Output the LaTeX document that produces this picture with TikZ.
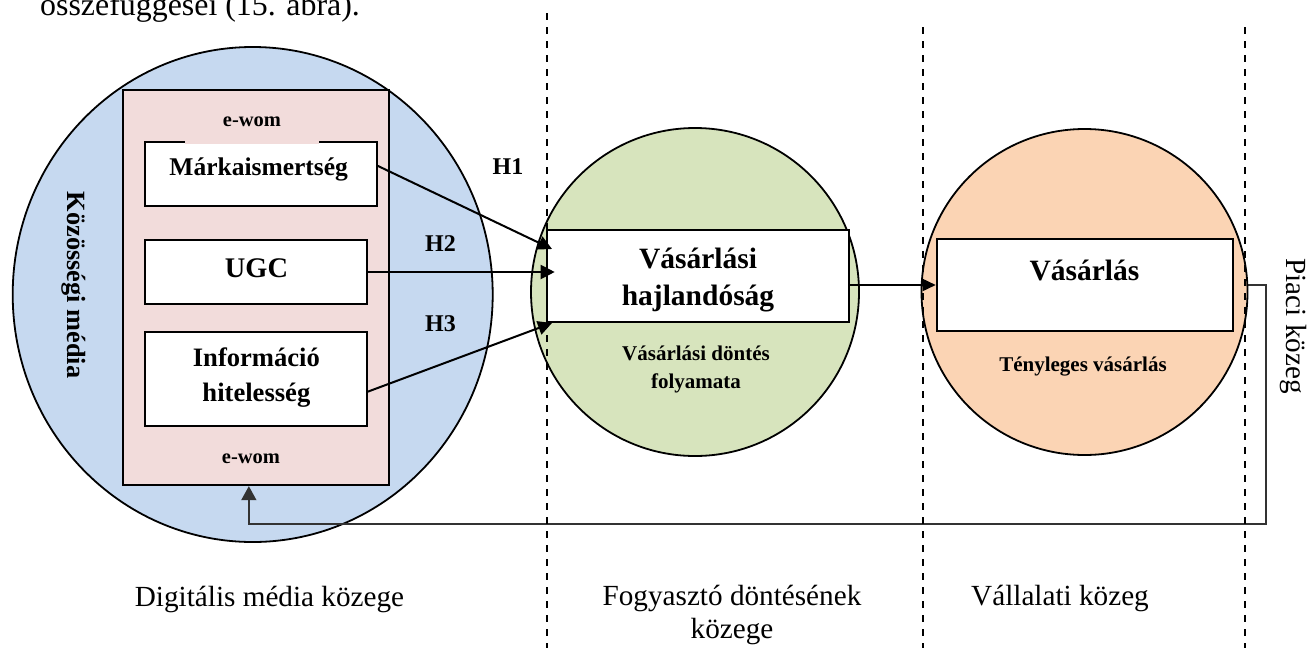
\documentclass[tikz,border=0pt]{standalone}
\usepackage{fontspec}
\setmainfont{Liberation Serif}
\usetikzlibrary{arrows.meta,shapes.geometric,calc}

\definecolor{mediablue}{HTML}{C6D9F0}
\definecolor{ewompink}{HTML}{F2DCDB}
\definecolor{decgreen}{HTML}{D7E4BD}
\definecolor{buyorange}{HTML}{FBD4B4}

\newcommand\fsz[2]{\fontsize{#1}{#2}\selectfont}

\tikzset{
  whitebox/.style={draw, line width=2pt, fill=white, inner sep=0pt},
  sphere/.style={draw, line width=1.8pt, inner sep=0pt},
  lbl/.style={inner sep=0pt, anchor=base},
  boxtext/.style={lbl, font=\bfseries\fsz{26}{35}},
  bigtext/.style={lbl, font=\bfseries\fsz{29.5}{37}},
  smalltext/.style={lbl, font=\bfseries\fsz{21}{27}},
  hyp/.style={lbl, font=\bfseries\fsz{24}{28}},
  ewomtext/.style={lbl, font=\bfseries\fsz{20.5}{24}},
  zone/.style={lbl, font=\fsz{29.2}{33}, align=center},
  arr/.style={line width=2pt, -{Triangle[length=14pt,width=14pt]}},
  flow/.style={line width=1.7pt, -{Triangle[length=13pt,width=12pt]}},
  feedback/.style={line width=1.5pt, draw=black!80, -{Triangle[length=14pt,width=15pt]}},
  zoneline/.style={line width=2pt, dash pattern=on 7pt off 7pt},
}

\begin{document}
\begin{tikzpicture}[x=1pt, y=-1pt]
\useasboundingbox (0,0) rectangle (1308,648);

% line of running text above the figure
\node[lbl, anchor=base west, font=\fsz{31.9}{38}] (head) at (40,15) {összefüggései (15. ábra).};

% digital media sphere
\node[sphere, ellipse, fill=mediablue, minimum width=480pt, minimum height=495pt] (media) at (252.7,294.5) {};
\node[draw, line width=2.3pt, fill=ewompink, inner sep=0pt, minimum width=266.3pt, minimum height=395pt] (ewom) at (255.85,287.5) {};
\node[rotate=-90, inner sep=0pt, font=\bfseries\fsz{26.3}{30}] (kozmedia) at (74,285) {Közösségi média};

\node[whitebox, minimum width=231.7pt, minimum height=64.3pt] (mark) at (260.85,173.85) {};
\node[ewomtext, fill=ewompink, text height=30pt, text depth=17.3pt, minimum width=134pt] (ewomtop) at (252,126.7) {e-wom};
\node[boxtext, font=\bfseries\fsz{25.5}{35}] (marktxt) at (258.7,175) {Márkaismertség};

\node[whitebox, minimum width=221.7pt, minimum height=64pt] (ugc) at (255.85,272) {};
\node[boxtext, font=\bfseries\fsz{28.4}{35}] (ugctxt) at (256.5,277.5) {UGC};

\node[whitebox, minimum width=221.7pt, minimum height=93.7pt] (info) at (255.85,378.85) {};
\node[boxtext, font=\bfseries\fsz{26.6}{35}] (infotxt1) at (256.4,366.7) {Információ};
\node[boxtext, font=\bfseries\fsz{26.6}{35}] (infotxt2) at (256.4,401.7) {hitelesség};

\node[ewomtext] (ewombot) at (251,463.5) {e-wom};

% consumer decision sphere
\node[sphere, circle, fill=decgreen, minimum size=328pt] (decision) at (695,292) {};
\node[whitebox, minimum width=302.6pt, minimum height=92.5pt] (hajl) at (698,275.75) {};
\node[bigtext] (hajltxt1) at (698,268.3) {Vásárlási};
\node[bigtext] (hajltxt2) at (698,305) {hajlandóság};
\node[smalltext] (dectxt1) at (696,360.5) {Vásárlási döntés};
\node[smalltext] (dectxt2) at (696,388) {folyamata};

% hypotheses
\node[hyp] (h1) at (508,174) {H1};
\node[hyp] (h2) at (440.5,251) {H2};
\node[hyp] (h3) at (440.5,331.5) {H3};

\draw[arr] ([yshift=8pt]mark.east) -- ($(hajl.north west)+(6.3,20.5)$);
\draw[arr] (ugc.east) -- ($(hajl.west |- ugc.east)+(9,0)$);
\draw[arr] ([yshift=-12.85pt]info.east) -- ($(hajl.south west)+(6.3,0)$);

% purchase feedback to the e-wom layer
\coordinate (fbturn) at (1266,524);
\node[whitebox, draw=none, fill=none, minimum width=296.6pt, minimum height=92pt] (vas) at (1085,285) {};
\draw[feedback] (vas.east) -| (fbturn) -| ($(ewom.south)+(-7,0)$);

% company sphere
\node[sphere, circle, fill=buyorange, minimum size=326pt] (company) at (1084.5,292) {};
\node[whitebox, minimum width=296.6pt, minimum height=92pt] (vasbox) at (1085,285) {};
\node[bigtext] (vastxt) at (1084.5,280) {Vásárlás};
\node[smalltext] (tenytxt) at (1083,371.7) {Tényleges vásárlás};

\draw[flow] (hajl.east |- vasbox.west) -- (vasbox.west);

% zone separators
\draw[zoneline] (547,13) -- (547,648);
\draw[zoneline] (923,27) -- (923,648);
\draw[zoneline] (1245,27) -- (1245,648);

% zone names (a two-line node sits on the baseline of its last line)
\node[zone] (zdigital) at (269.5,606) {Digitális média közege};
\node[zone] (zconsumer) at (732,638) {Fogyasztó döntésének\\közege};
\node[zone] (zcompany) at (1060,605) {Vállalati közeg};
\node[rotate=-90, inner sep=0pt, font=\fsz{29.2}{33}] (zmarket) at (1293,326) {Piaci közeg};
\end{tikzpicture}
\end{document}
